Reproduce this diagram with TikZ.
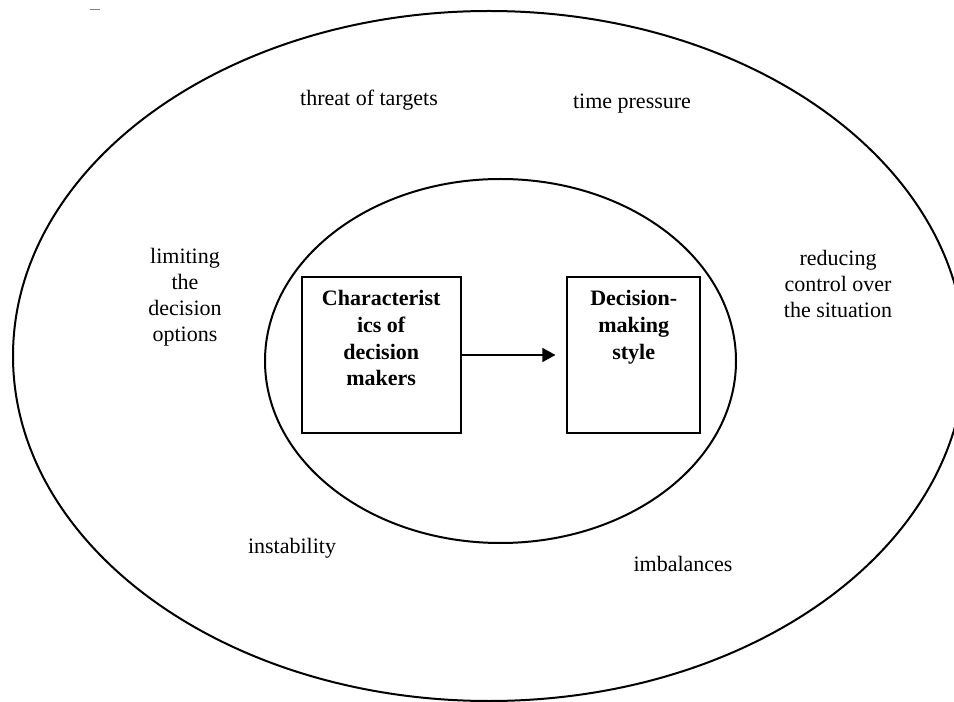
\documentclass[tikz,border=0pt]{standalone}
\usepackage{fontspec}
\setmainfont{Liberation Serif}
\usetikzlibrary{positioning,arrows.meta}

\begin{document}
\begin{tikzpicture}[x=0.75pt,y=-0.75pt]

    % Set the canvas size
    \useasboundingbox (0,0) rectangle (954,702);
    \clip (0,0) rectangle (954,702);

    % Define styles
    \tikzset{
        ring/.style={line width=1.5pt},
        factor/.style={font=\fontsize{16.5}{19.5}\selectfont, align=center, inner sep=0pt},
        boxed/.style={draw, line width=1.4pt, minimum height=117.5pt, inner sep=0pt},
        boxtext/.style={font=\bfseries\fontsize{16.5}{20}\selectfont, align=center, inner sep=0pt},
        influence/.style={-{Triangle[length=9.75pt, width=10.5pt]}, line width=0.9pt, shorten >=8.25pt},
    }

    % Stray mark in the corner
    \draw[gray, line width=0.8pt] (90,9.5) -- (100,9.5);

    % Outer and inner rings
    \draw[ring] (489,356) ellipse [x radius=476, y radius=345];
    \draw[ring] (500.5,361) ellipse [x radius=235.5, y radius=182];

    % Factors in the outer ring
    \node[factor] (threat) at (369,100) {threat of targets};
    \node[factor] (time) at (632,104) {time pressure};
    \node[factor] (limiting) at (185,297) {limiting\\the\\decision\\options};
    \node[factor] (reducing) at (838,284) {reducing\\control over\\the situation};
    \node[factor] (instability) at (292,548) {instability};
    \node[factor] (imbalances) at (683,564) {imbalances};

    % Boxes in the inner ring
    \node[boxed, minimum width=119.25pt] (charbox) at (381.2,355) {};
    \node[boxed, minimum width=99.5pt] (stylebox) at (633.7,355) {};
    \node[boxtext, below=11pt of charbox.north] (chartext) {Characterist\\ics of\\decision\\makers};
    \node[boxtext, below=11pt of stylebox.north] (styletext) {Decision-\\making\\style};

    % Arrow between the boxes
    \draw[influence] (charbox) -- (stylebox);

\end{tikzpicture}
\end{document}
